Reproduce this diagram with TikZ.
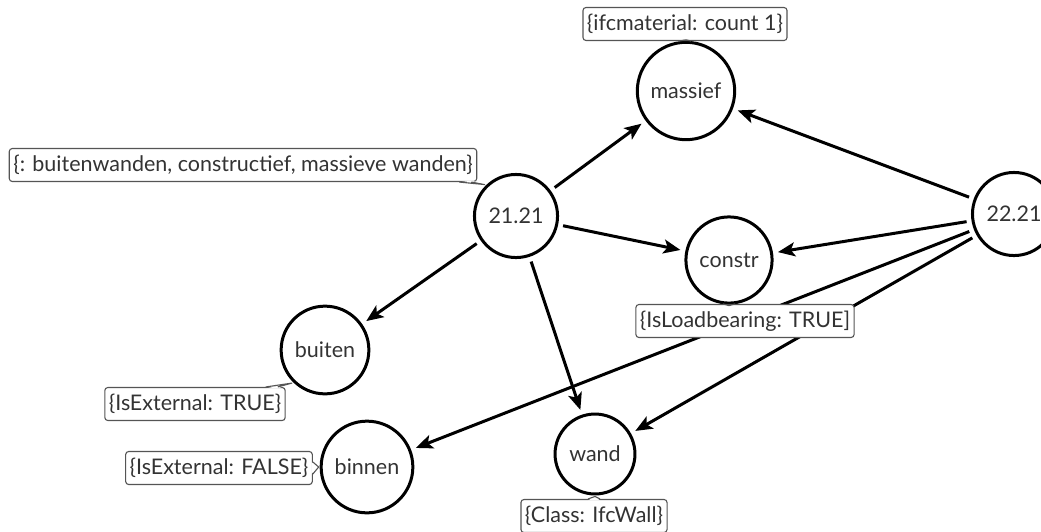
\documentclass[tikz,border=0pt]{standalone}
\usepackage{fontspec}
\setmainfont{Lato}
\usetikzlibrary{arrows.meta,calc}
\definecolor{txt}{HTML}{333333}
\definecolor{lab}{HTML}{555555}
\begin{document}
\begin{tikzpicture}[x=1pt,y=-1pt,
  ent/.style={circle,draw=black,line width=3pt,fill=white,minimum size=74pt,inner sep=10pt,text=txt,font=\fontsize{21.5}{24}\selectfont},
  tag/.style={draw=lab,line width=1.1pt,rounded corners=3pt,fill=white,text=txt,font=\fontsize{21.5}{24}\selectfont,inner xsep=4pt,inner ysep=0pt,minimum height=33pt},
  rel/.style={line width=3pt,-{Stealth[length=17pt,width=14pt,inset=4pt]},shorten <=5pt,shorten >=5pt},
  ptrline/.style={draw=lab,line width=1.1pt,line join=round}]
\useasboundingbox (0,0) rectangle (1041,531);

% entity nodes
\node[ent] (massief) at (686,91) {massief};
\node[ent] (c2121) at (516,216) {21.21};
\node[ent] (c2221) at (1014,214) {22.21};
\node[ent] (constr) at (729,260) {constr};
\node[ent] (buiten) at (325,350) {buiten};
\node[ent] (binnen) at (367,467) {binnen};
\node[ent] (wand) at (595,454) {wand};

% relations
\draw[rel] (c2121) -- (massief);
\draw[rel] (c2121) -- (constr);
\draw[rel] (c2121) -- (buiten);
\draw[rel] (c2121) -- (wand);
\draw[rel] (c2221) -- (massief);
\draw[rel] (c2221) -- (constr);
\draw[rel] (c2221) -- (binnen);
\draw[rel] (c2221) -- (wand);

% tags
\node[tag] (t1) at (685,24) {\{ifcmaterial: count 1\}};
\node[tag] (t2) at (243,165) {\{: buitenwanden, constructief, massieve wanden\}};
\node[tag] (t3) at (745,321) {\{IsLoadbearing: TRUE]};
\node[tag] (t4) at (195,404) {\{IsExternal: TRUE\}};
\node[tag] (t5) at (219,468) {\{IsExternal: FALSE\}};
\node[tag] (t6) at (594,516) {\{Class: IfcWall\}};

% pointers
\fill[white] ($(t1.south)+(-6,-1.5)$) -- ($(massief.north)+(0,-1)$) -- ($(t1.south)+(6,-1.5)$) -- cycle;
\draw[ptrline] ($(t1.south)+(-6,0)$) -- ($(massief.north)+(0,-1)$) -- ($(t1.south)+(6,0)$);

\fill[white] ($(t2.south east)+(-18,-1.5)$) -- ($(c2121.135)+(-1,-1)$) -- ($(t2.south east)+(-6,-1.5)$) -- cycle;
\draw[ptrline] ($(t2.south east)+(-18,0)$) -- ($(c2121.135)+(-1,-1)$) -- ($(t2.south east)+(-6,0)$);

\fill[white] ($(t3.north)+(-22,1.5)$) -- ($(constr.south)+(0,1)$) -- ($(t3.north)+(-10,1.5)$) -- cycle;
\draw[ptrline] ($(t3.north)+(-22,0)$) -- ($(constr.south)+(0,1)$) -- ($(t3.north)+(-10,0)$);

\fill[white] ($(t4.north east)+(-20,1.5)$) -- ($(buiten.225)+(-1,1)$) -- ($(t4.north east)+(-8,1.5)$) -- cycle;
\draw[ptrline] ($(t4.north east)+(-20,0)$) -- ($(buiten.225)+(-1,1)$) -- ($(t4.north east)+(-8,0)$);

\fill[white] ($(t5.east)+(-1.5,-6)$) -- ($(binnen.west)+(-1,0)$) -- ($(t5.east)+(-1.5,6)$) -- cycle;
\draw[ptrline] ($(t5.east)+(0,-6)$) -- ($(binnen.west)+(-1,0)$) -- ($(t5.east)+(0,6)$);

\fill[white] ($(t6.north)+(-6,1.5)$) -- ($(wand.south)+(0,1)$) -- ($(t6.north)+(6,1.5)$) -- cycle;
\draw[ptrline] ($(t6.north)+(-6,0)$) -- ($(wand.south)+(0,1)$) -- ($(t6.north)+(6,0)$);
\end{tikzpicture}
\end{document}
